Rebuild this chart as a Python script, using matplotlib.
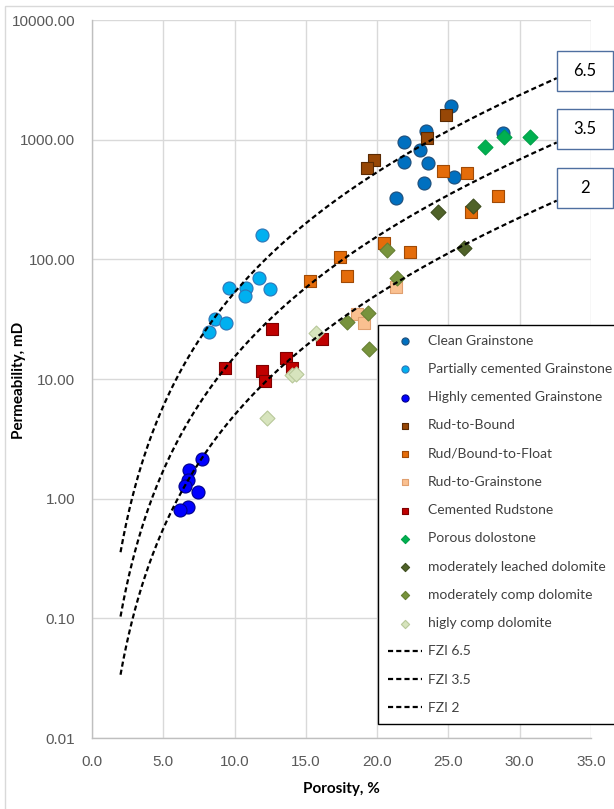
import matplotlib
matplotlib.use('Agg')
import matplotlib.pyplot as plt
import numpy as np
from matplotlib.lines import Line2D
from matplotlib.patches import Rectangle

# ---------------- data ----------------
clean_x = [25.2, 23.4, 21.9, 23.0, 21.9, 23.6, 25.4, 23.3, 21.3, 28.8]
clean_y = [1912, 1182, 962, 820, 655, 635, 485, 432, 328, 1131]

partial_x = [11.9, 11.7, 9.6, 10.8, 10.7, 12.5, 8.6, 9.4, 8.2]
partial_y = [160, 70.3, 58.0, 57.4, 49.7, 56.3, 31.6, 29.6, 24.6]

highly_x = [7.75, 6.8, 6.7, 6.5, 7.4, 6.7, 6.2]
highly_y = [2.16, 1.74, 1.44, 1.28, 1.14, 0.86, 0.80]

rudbound_x = [24.8, 23.5, 19.75, 19.3]
rudbound_y = [1608, 1027, 677, 584]

float_x = [24.6, 26.3, 28.5, 26.6, 20.45, 22.3, 17.4, 17.9, 15.3]
float_y = [548, 530, 340, 247, 136, 115, 104, 72.6, 66.4]

rudgrain_x = [21.3, 18.6, 19.1]
rudgrain_y = [59.1, 34.8, 29.6]

cemrud_x = [12.6, 9.3, 16.1, 11.9, 13.6, 14.0, 12.1]
cemrud_y = [26.2, 12.45, 21.5, 11.75, 14.9, 12.3, 9.7]

porous_x = [27.6, 28.9, 30.7]
porous_y = [874, 1047, 1047]

modleach_x = [26.7, 24.3, 26.1]
modleach_y = [281, 247, 124]

modcomp_x = [21.4, 20.7, 17.9, 19.35, 19.4]
modcomp_y = [69.5, 120, 30.2, 35.9, 17.7]

highcomp_x = [15.7, 14.0, 14.3, 12.25]
highcomp_y = [24.3, 10.7, 11.0, 4.76]

fzi_values = [6.5, 3.5, 2.0]
fzi_labels = ['FZI 6.5', 'FZI 3.5', 'FZI 2']
fzi_box_labels = ['6.5', '3.5', '2']
phi_range = [2.0, 32.6]   # porosity range of the FZI curves, %

x_ticks = [0, 5, 10, 15, 20, 25, 30, 35]
y_ticks = [0.01, 0.1, 1, 10, 100, 1000, 10000]

# ---------------- figure ----------------
W, H = 614, 809
fig = plt.figure(figsize=(W / 100, H / 100), dpi=100)
ax = fig.add_axes([92 / W, 71 / H, 499 / W, 718 / H])

# chart-area border (only left/top visible)
fig.add_artist(Rectangle((5 / W, -0.5), 2, 1.5 - 6 / H, transform=fig.transFigure,
                         fill=False, ec='#d9d9d9', lw=1))

series = [
    ('Clean Grainstone', clean_x, clean_y, 'o', '#0070C0', '#1F4E79', 88),
    ('Partially cemented Grainstone', partial_x, partial_y, 'o', '#00B0F0', '#2E75B6', 88),
    ('Highly cemented Grainstone', highly_x, highly_y, 'o', '#0000FF', '#00008B', 88),
    ('Rud-to-Bound', rudbound_x, rudbound_y, 's', '#974706', '#5A2A03', 80),
    ('Rud/Bound-to-Float', float_x, float_y, 's', '#E46C0A', '#A04A06', 80),
    ('Rud-to-Grainstone', rudgrain_x, rudgrain_y, 's', '#FAC090', '#E0A070', 80),
    ('Cemented Rudstone', cemrud_x, cemrud_y, 's', '#C00000', '#800000', 80),
    ('Porous dolostone', porous_x, porous_y, 'D', '#00B050', '#00A048', 58),
    ('moderately leached dolomite', modleach_x, modleach_y, 'D', '#4F6228', '#3E4E1F', 58),
    ('moderately comp dolomite', modcomp_x, modcomp_y, 'D', '#77933C', '#667F33', 58),
    ('higly comp dolomite', highcomp_x, highcomp_y, 'D', '#D7E4BD', '#B8C89A', 58),
]

handles = []
for i, (lab, xs, ys, m, fc, ec, s) in enumerate(series):
    h = ax.scatter(xs, ys, marker=m, s=s, c=fc, edgecolors=ec, linewidths=0.8,
                   zorder=3 + i * 0.01, label=lab)
    handles.append(h)

phi = np.linspace(phi_range[0], phi_range[1], 300) / 100.0
for fzi, lab in zip(fzi_values, fzi_labels):
    k = 1014.0 * fzi ** 2 * phi ** 3 / (1 - phi) ** 2
    ln, = ax.plot(phi * 100, k, color='black', lw=1.6, ls=(0, (2.3, 1.4)), zorder=5, label=lab)
    handles.append(ln)

ax.set_yscale('log')
ax.set_xlim(0, 35)
ax.set_ylim(0.01, 10000)
ax.set_xticks(x_ticks)
ax.set_xticklabels([f'{v:.1f}' for v in x_ticks])
ax.set_yticks(y_ticks)
ax.set_yticklabels([f'{v:.2f}' for v in y_ticks])
ax.minorticks_off()
ax.tick_params(length=0, pad=12, labelsize=11, colors='#595959')
for t in ax.get_yticklabels():
    t.set_family('Liberation Sans')
for t in ax.get_xticklabels():
    t.set_family('Liberation Sans')
ax.grid(True, color='#d9d9d9', lw=1)
ax.set_axisbelow(True)
for sp in ['top', 'right']:
    ax.spines[sp].set_visible(False)
for sp in ['left', 'bottom']:
    ax.spines[sp].set_color('#bfbfbf')
    ax.spines[sp].set_linewidth(1)

fig.text(19 / W, 1 - 380 / H, 'Permeability, mD', rotation=90, ha='center', va='center',
         fontsize=11, fontweight='bold', family='Lato')
fig.text(341 / W, 1 - 789 / H, 'Porosity, %', ha='center', va='center',
         fontsize=11, fontweight='bold', family='Lato')

# FZI value boxes
box_tops = [51, 109, 168]
for lab, top in zip(fzi_box_labels, box_tops):
    fig.add_artist(Rectangle((557 / W, 1 - (top + 40) / H), 56 / W, 40 / H,
                             transform=fig.transFigure, fc='white', ec='#4F6FA0', lw=1, zorder=10))
    fig.text(585 / W, 1 - (top + 20) / H, lab, ha='center', va='center', fontsize=12,
             family='Lato', zorder=11)

leg = ax.legend(handles=handles, loc='upper left',
                bbox_to_anchor=(378 / W, 0, 250 / W, 1 - 325 / H),
                bbox_transform=fig.transFigure, mode='expand', frameon=True, fancybox=False,
                edgecolor='black', framealpha=1, borderaxespad=0, borderpad=0.7,
                handlelength=2.5, handletextpad=0.4, labelspacing=1.17, markerscale=0.55,
                prop={'family': 'Lato', 'size': 10})
leg.get_frame().set_linewidth(1)
leg.set_zorder(20)
for t in leg.get_texts():
    t.set_color('#404040')

fig.savefig('out.png', dpi=100)
